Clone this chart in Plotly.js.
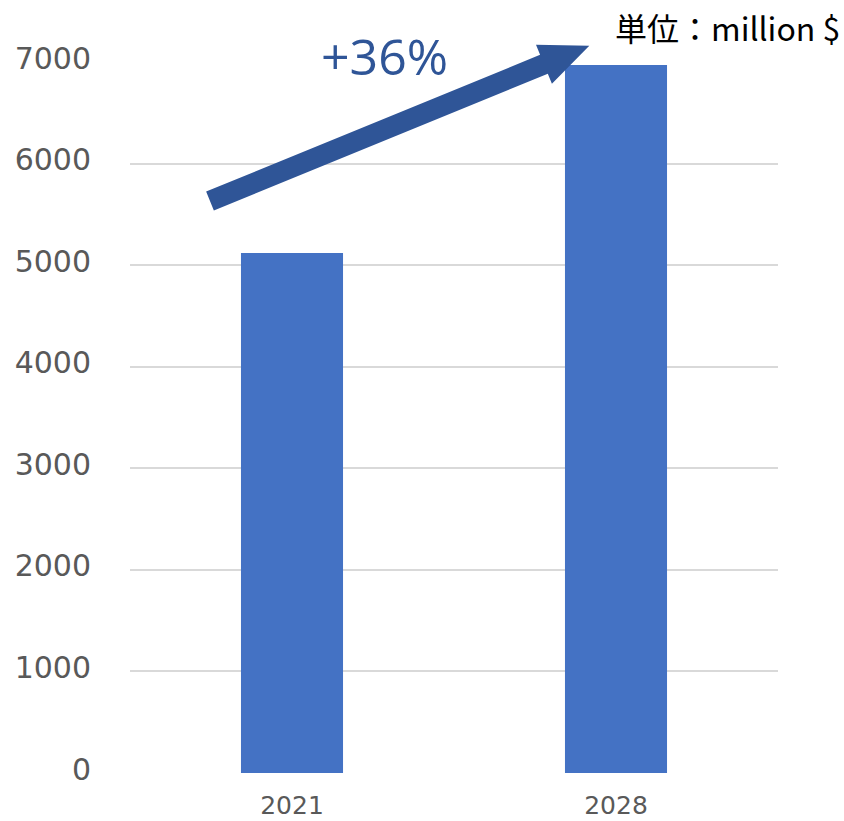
<!DOCTYPE html>
<html>
<head>
<meta charset="utf-8">
<script src="https://cdn.plot.ly/plotly-3.0.1.min.js"></script>
<style>html,body{margin:0;padding:0;background:#fff;}#chart{width:844px;height:821px;}</style>
</head>
<body>
<div id="chart"></div>
<script>
const years = ['2021', '2028'];
const values = [5120, 6970];
const yTicks = [0, 1000, 2000, 3000, 4000, 5000, 6000, 7000];
const growthLabel = '+36%';
const unitLabel = '単位：million $';

const W = 844, H = 821;
const M = {l: 130, r: 66, t: 62, b: 48};
const PW = W - M.l - M.r, PH = H - M.t - M.b;
const px = x => (x - M.l) / PW;
const py = y => (H - M.b - y) / PH;

// decorative arrow (pixel geometry -> paper coords)
const T = [210, 201], P = [589.3, 45.7];
const d = [P[0] - T[0], P[1] - T[1]];
const L = Math.hypot(d[0], d[1]);
const u = [d[0] / L, d[1] / L];
const n = [-u[1], u[0]];
const hs = 10.2, hh = 21, hl = 49;
const B = [P[0] - hl * u[0], P[1] - hl * u[1]];
const pts = [
  [T[0] + hs * n[0], T[1] + hs * n[1]],
  [B[0] + hs * n[0], B[1] + hs * n[1]],
  [B[0] + hh * n[0], B[1] + hh * n[1]],
  P,
  [B[0] - hh * n[0], B[1] - hh * n[1]],
  [B[0] - hs * n[0], B[1] - hs * n[1]],
  [T[0] - hs * n[0], T[1] - hs * n[1]]
];
const path = 'M ' + pts.map(p => px(p[0]).toFixed(5) + ',' + py(p[1]).toFixed(5)).join(' L ') + ' Z';

const data = [{
  type: 'bar',
  x: years,
  y: values,
  marker: {color: '#4472C4'},
  hoverinfo: 'none'
}];

const layout = {
  width: W, height: H,
  margin: M,
  paper_bgcolor: '#ffffff',
  plot_bgcolor: '#ffffff',
  showlegend: false,
  bargap: 0.685,
  xaxis: {
    type: 'category',
    range: [-0.5, 1.5],
    showgrid: false,
    showline: false,
    zeroline: false,
    ticks: '',
    ticklabelstandoff: 15,
    tickfont: {family: 'DejaVu Sans', size: 25, color: '#595959'}
  },
  yaxis: {
    range: [0, 7000],
    tickvals: yTicks,
    ticktext: yTicks.map(String),
    showgrid: true,
    gridcolor: '#D9D9D9',
    gridwidth: 2,
    zeroline: false,
    showline: false,
    ticks: '',
    ticklabelstandoff: 38,
    ticklabelshift: -4,
    tickfont: {family: 'DejaVu Sans', size: 30, color: '#595959'}
  },
  shapes: [{
    type: 'path',
    xref: 'paper', yref: 'paper',
    path: path,
    fillcolor: '#2F5597',
    line: {width: 0},
    layer: 'above'
  }],
  annotations: [
    {
      xref: 'paper', yref: 'paper',
      x: px(384), y: py(56),
      xanchor: 'center', yanchor: 'middle',
      text: growthLabel, showarrow: false,
      font: {family: 'Open Sans', size: 50, color: '#2F5597'}
    },
    {
      xref: 'paper', yref: 'paper',
      x: px(613), y: py(27),
      xanchor: 'left', yanchor: 'middle',
      text: unitLabel, showarrow: false,
      font: {family: 'Noto Sans CJK JP', size: 32, color: '#000000'}
    }
  ]
};

Plotly.newPlot('chart', data, layout, {staticPlot: true});
</script>
</body>
</html>
